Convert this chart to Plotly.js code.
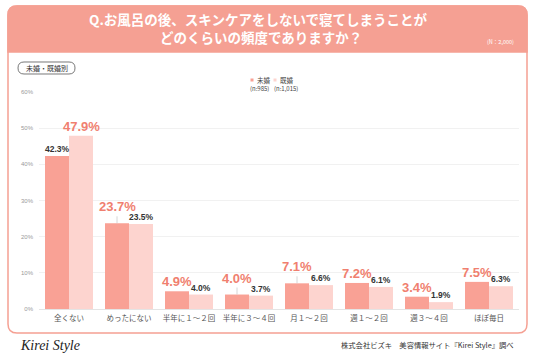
<!DOCTYPE html>
<html>
<head>
<meta charset="utf-8">
<script src="https://cdn.plot.ly/plotly-3.0.1.min.js"></script>
<style>html,body{margin:0;padding:0;background:#fff;}#chart{width:536px;height:357px;}</style>
</head>
<body>
<div id="chart"></div>
<script>
// ---- data ----
const categories = ["全くない","めったにない","半年に１～２回","半年に３～４回","月１～２回","週１～２回","週３～４回","ほぼ毎日"];
const unmarried = [42.3, 23.7, 4.9, 4.0, 7.1, 7.2, 3.4, 7.5];
const married   = [47.9, 23.5, 4.0, 3.7, 6.6, 6.1, 1.9, 6.3];
const seriesNames = ["未婚","既婚"];
const seriesN = ["(n:985)","(n:1,015)"];
const yTickVals = [0,10,20,30,40,50,60];
const yTickText = ["0%","10%","20%","30%","40%","50%","60%"];
const titleLine1 = "Q.お風呂の後、スキンケアをしないで寝てしまうことが";
const titleLine2 = "どのくらいの頻度でありますか？";

// ---- style ----
const SALMON = "#F5A093";
const C_UNM = "#F9A195";
const C_MAR = "#FDD4CF";
const HILITE = "#F07F6F";
const JP = "'Noto Sans CJK JP', 'Noto Sans', sans-serif";
const NUM = "'Liberation Sans', Arial, sans-serif";

const W = 536, H = 357;
const L = 39, R = 519, T = 92, B = 309;
const px = x => (x - L) / (R - L);
const py = y => (B - y) / (B - T);

function rr(x0, y0, x1, y1, r, topOnly) {
  const p = (x, y) => px(x).toFixed(5) + "," + py(y).toFixed(5);
  let s = "M" + p(x0 + r, y0) + " L" + p(x1 - r, y0) + " Q" + p(x1, y0) + " " + p(x1, y0 + r);
  if (topOnly) {
    s += " L" + p(x1, y1) + " L" + p(x0, y1);
  } else {
    s += " L" + p(x1, y1 - r) + " Q" + p(x1, y1) + " " + p(x1 - r, y1) +
         " L" + p(x0 + r, y1) + " Q" + p(x0, y1) + " " + p(x0, y1 - r);
  }
  s += " L" + p(x0, y0 + r) + " Q" + p(x0, y0) + " " + p(x0 + r, y0) + " Z";
  return s;
}

const shapes = [
  {type: "path", xref: "paper", yref: "paper", layer: "below", path: rr(8, 6, 527, 333, 9, false),
   fillcolor: "#ffffff", line: {color: SALMON, width: 1.5}},
  {type: "path", xref: "paper", yref: "paper", layer: "below", path: rr(8, 6, 527, 52, 9, true),
   fillcolor: SALMON, line: {color: SALMON, width: 1.5}},
  {type: "path", xref: "paper", yref: "paper", layer: "above", path: rr(18, 62, 75, 74, 6, false),
   fillcolor: "rgba(0,0,0,0)", line: {color: "#555", width: 0.8}},
  {type: "rect", xref: "paper", yref: "paper", x0: px(250.5), x1: px(253.5), y0: py(78.5), y1: py(81.5),
   fillcolor: C_UNM, line: {width: 0}},
  {type: "rect", xref: "paper", yref: "paper", x0: px(273.5), x1: px(276.5), y0: py(78.5), y1: py(81.5),
   fillcolor: C_MAR, line: {width: 0}}
];

const annotations = [
  {xref: "paper", yref: "paper", x: px(261), y: py(37), text: titleLine2, showarrow: false,
   xanchor: "center", yanchor: "middle", font: {family: JP, size: 13.5, color: "#ffffff", weight: "bold"}},
  {xref: "paper", yref: "paper", x: px(516), y: py(42), text: "(N：2,000)", showarrow: false,
   xanchor: "right", yanchor: "middle", font: {family: JP, size: 5.5, color: "#fff"}},
  {xref: "paper", yref: "paper", x: px(46.5), y: py(68), text: "未婚・既婚別", showarrow: false,
   xanchor: "center", yanchor: "middle", font: {family: JP, size: 7, color: "#333"}},
  {xref: "paper", yref: "paper", x: px(255), y: py(80), text: seriesNames[0], showarrow: false,
   xanchor: "left", yanchor: "middle", font: {family: JP, size: 6.5, color: "#444"}},
  {xref: "paper", yref: "paper", x: px(278), y: py(80), text: seriesNames[1], showarrow: false,
   xanchor: "left", yanchor: "middle", font: {family: JP, size: 6.5, color: "#444"}},
  {xref: "paper", yref: "paper", x: px(259.5), y: py(88), text: seriesN[0], showarrow: false,
   xanchor: "center", yanchor: "middle", font: {family: JP, size: 6, color: "#444"}},
  {xref: "paper", yref: "paper", x: px(285.5), y: py(88), text: seriesN[1], showarrow: false,
   xanchor: "center", yanchor: "middle", font: {family: JP, size: 6, color: "#444"}},
  {xref: "paper", yref: "paper", x: px(18), y: py(345), text: "Kirei Style", showarrow: false,
   xanchor: "left", yanchor: "middle", font: {family: "'Liberation Serif', serif", size: 14, style: "italic", color: "#222"}},
  {xref: "paper", yref: "paper", x: px(516), y: py(345), text: "株式会社ビズキ　美容情報サイト『Kirei Style』調べ", showarrow: false,
   xanchor: "right", yanchor: "middle", font: {family: JP, size: 7.3, color: "#333"}}
];

// value labels
categories.forEach((c, i) => {
  const vals = [unmarried[i], married[i]];
  const hi = vals[0] >= vals[1] ? 0 : 1;
  const close = Math.abs(vals[0] - vals[1]) < 0.6;
  vals.forEach((v, s) => {
    const big = s === hi;
    const font = big ? {family: NUM, size: 13, color: HILITE, weight: "bold"}
                     : {family: NUM, size: 8.5, color: "#333", weight: "bold"};
    const a = {x: c, y: v, xref: "x", yref: "y", text: v.toFixed(1) + "%",
               xshift: s === 0 ? -12 : 12, font: font, xanchor: "center", yanchor: "bottom"};
    if (big && close) {
      Object.assign(a, {showarrow: true, arrowhead: 0, arrowwidth: 0.8, arrowcolor: "#cccccc",
                        ax: 0, ay: -7, standoff: 0});
    } else {
      Object.assign(a, {showarrow: false, yshift: 0});
    }
    annotations.push(a);
  });
});

const traces = [
  {type: "bar", name: seriesNames[0], x: categories, y: unmarried, marker: {color: C_UNM}, hoverinfo: "none"},
  {type: "bar", name: seriesNames[1], x: categories, y: married, marker: {color: C_MAR}, hoverinfo: "none"}
];

const layout = {
  width: W, height: H,
  margin: {l: L, r: W - R, t: T, b: H - B, pad: 0},
  paper_bgcolor: "#ffffff", plot_bgcolor: "rgba(0,0,0,0)",
  showlegend: false,
  barmode: "group", bargap: 0.2, bargroupgap: 0,
  title: {text: titleLine1,
          xref: "container", yref: "container", x: 258 / W, y: 1 - 20 / H, xanchor: "center", yanchor: "middle",
          font: {family: JP, size: 13.5, color: "#ffffff", weight: "bold"}},
  xaxis: {type: "category", showgrid: false, zeroline: false, showline: false, ticks: "",
          tickfont: {family: JP, size: 7.5, color: "#555"}, ticklabelstandoff: 3},
  yaxis: {range: [0, 60], tickvals: yTickVals, ticktext: yTickText, showgrid: true, gridcolor: "#eeeeee", gridwidth: 0.8,
          zeroline: true, zerolinecolor: "#e4e4e4", zerolinewidth: 1, showline: false, ticks: "",
          tickfont: {family: NUM, size: 6, color: "#999"}, ticklabelstandoff: 5},
  shapes: shapes,
  annotations: annotations
};

Plotly.newPlot("chart", traces, layout, {displayModeBar: false, staticPlot: true});
</script>
</body>
</html>
